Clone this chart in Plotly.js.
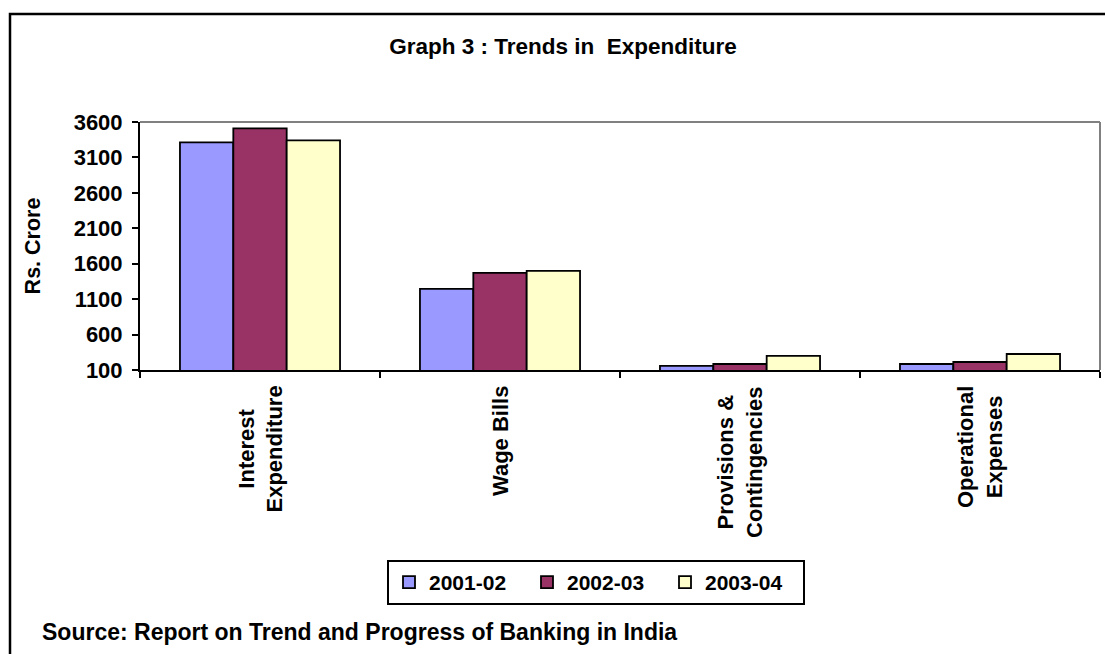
<!DOCTYPE html>
<html>
<head>
<meta charset="utf-8">
<script src="https://cdn.plot.ly/plotly-3.0.1.min.js"></script>
<style>
  html, body { margin: 0; padding: 0; background: #fff; }
  #chart { width: 1105px; height: 654px; }
</style>
</head>
<body>
<div id="chart"></div>
<script>
// Expenditure heads (Rs. Crore) for three financial years
const categories = ['Interest Expenditure', 'Wage Bills', 'Provisions & Contingencies', 'Operational Expenses'];
const categoryLabels = ['Interest<br>Expenditure', 'Wage Bills', 'Provisions &<br>Contingencies', 'Operational<br>Expenses'];
const years = ['2001-02', '2002-03', '2003-04'];
const values2001 = [3313, 1245, 157, 185];
const values2002 = [3511, 1471, 185, 213];
const values2003 = [3341, 1499, 298, 326];
const yTicks = [100, 600, 1100, 1600, 2100, 2600, 3100, 3600];

const FONT = 'Liberation Sans, Arial, sans-serif';
const seriesValues = [values2001, values2002, values2003];
const seriesColors = ['#9999FF', '#993366', '#FFFFCC'];

const traces = years.map((yr, i) => ({
  type: 'bar',
  name: yr,
  x: categories,
  y: seriesValues[i],
  marker: { color: seriesColors[i], line: { color: '#000', width: 1.8 } },
  hoverinfo: 'x+y+name'
}));

// Rotated category labels under each group, centred line by line
const catAnnotations = categories.map((c, i) => ({
  x: c, xref: 'x', y: 0, yref: 'paper',
  text: categoryLabels[i], textangle: -90,
  showarrow: false, align: 'center',
  xanchor: 'center', yanchor: 'top', yshift: -14,
  font: { family: FONT, size: 22, color: '#000', weight: 'bold' }
}));

const layout = {
  width: 1105, height: 654,
  margin: { l: 140, r: 5, t: 122, b: 284 },
  paper_bgcolor: '#fff', plot_bgcolor: '#fff',
  font: { family: FONT, color: '#000' },
  title: {
    text: 'Graph 3 : Trends in&nbsp; Expenditure',
    xref: 'container', yref: 'container',
    x: 563 / 1105, y: 1 - 46 / 654, xanchor: 'center', yanchor: 'middle',
    font: { family: FONT, size: 22.5, color: '#000', weight: 'bold' }
  },
  barmode: 'group', bargap: 0.333, bargroupgap: 0,
  showlegend: true,
  legend: {
    orientation: 'h',
    xref: 'container', yref: 'container',
    x: 387 / 1105, y: 1 - 560 / 654, xanchor: 'left', yanchor: 'top',
    bordercolor: '#000', borderwidth: 2, bgcolor: '#fff',
    entrywidth: 93, itemwidth: 30,
    font: { family: FONT, size: 21, color: '#000', weight: 'bold' }
  },
  xaxis: {
    type: 'category', range: [-0.5, 3.5],
    showticklabels: false, showgrid: false, zeroline: false,
    showline: true, linecolor: '#000', linewidth: 2,
    ticks: 'outside', tickson: 'boundaries', ticklen: 6, tickwidth: 2, tickcolor: '#000',
    fixedrange: true
  },
  yaxis: {
    range: [100, 3600], tickvals: yTicks, ticktext: yTicks.map(String),
    showgrid: false, zeroline: false,
    showline: true, linecolor: '#000', linewidth: 2,
    ticks: 'outside', ticklen: 6, tickwidth: 2, tickcolor: '#000',
    ticklabelstandoff: 5,
    tickfont: { family: FONT, size: 22, color: '#000', weight: 'bold' },
    title: {
      text: 'Rs. Crore', standoff: 27,
      font: { family: FONT, size: 21.5, color: '#000', weight: 'bold' }
    },
    fixedrange: true
  },
  shapes: [
    // plot-area frame on the top and right
    { type: 'line', xref: 'paper', yref: 'paper', x0: 0, x1: 1, y0: 1, y1: 1,
      line: { color: '#808080', width: 2 }, layer: 'below' },
    { type: 'line', xref: 'paper', yref: 'paper', x0: 1, x1: 1, y0: 0, y1: 1,
      line: { color: '#808080', width: 2 }, layer: 'below' },
    // outer chart frame
    { type: 'rect', xref: 'paper', yref: 'paper',
      x0: (10 - 140) / 960, x1: 1.2, y0: -2, y1: (370 - 14) / 248,
      line: { color: '#000', width: 2.5 }, fillcolor: 'rgba(0,0,0,0)', layer: 'above' }
  ],
  annotations: catAnnotations.concat([{
    text: 'Source: Report on Trend and Progress of Banking in India',
    xref: 'paper', yref: 'paper',
    x: (40 - 140) / 960, y: (370 - 632) / 248, xanchor: 'left', yanchor: 'middle',
    showarrow: false,
    font: { family: FONT, size: 23, color: '#000', weight: 'bold' }
  }])
};

Plotly.newPlot('chart', traces, layout, { displayModeBar: false, staticPlot: true });
</script>
</body>
</html>
